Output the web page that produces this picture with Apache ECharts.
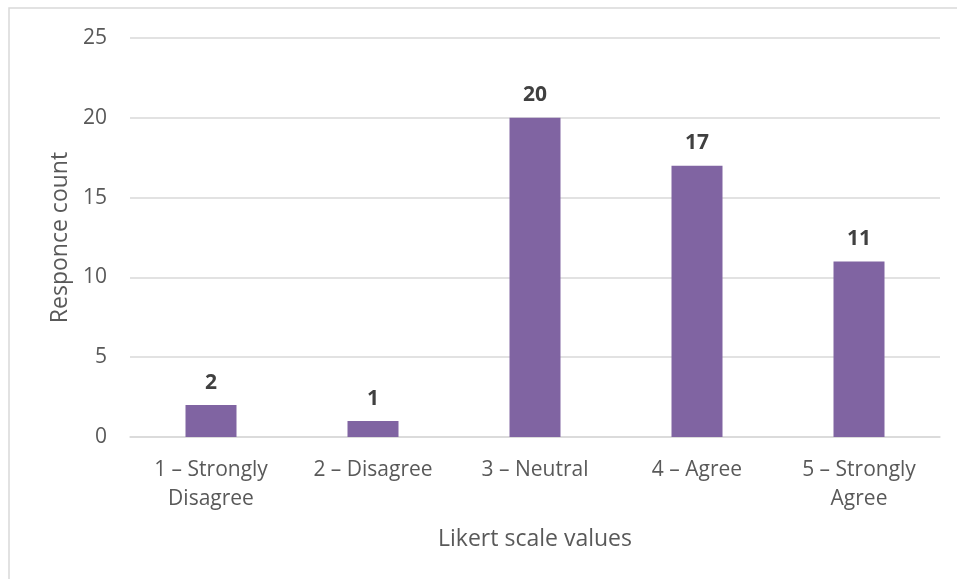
<!DOCTYPE html>
<html lang="en">
<head>
    <meta charset="UTF-8">
    <title>Likert responses</title>
    <style>
        html, body { margin: 0; padding: 0; background: #fff; }
        #main { width: 957px; height: 579px; }
    </style>
</head>
<body>
<div id="main"></div>
<script src="https://cdn.jsdelivr.net/npm/echarts@6/dist/echarts.min.js"></script>
<script>
    var categories = ['1 – Strongly\nDisagree', '2 – Disagree', '3 – Neutral', '4 – Agree', '5 – Strongly\nAgree'];
    var counts = [2, 1, 20, 17, 11];
    var yTicks = [0, 5, 10, 15, 20, 25];

    var font = '"Open Sans", sans-serif';
    var myChart = echarts.init(document.getElementById('main'));
    var option = {
        animation: false,
        textStyle: { fontFamily: font },
        graphic: [{
            type: 'rect',
            shape: { x: 9, y: 8, width: 1000, height: 1000 },
            style: { fill: 'none', stroke: '#d9d9d9', lineWidth: 1.5 }
        }],
        grid: { left: 130, right: 17, top: 38, bottom: 142 },
        xAxis: {
            type: 'category',
            data: categories,
            name: 'Likert scale values',
            nameLocation: 'middle',
            nameGap: 91,
            nameTextStyle: { fontSize: 23, color: '#595959', fontFamily: font },
            axisLine: { lineStyle: { color: '#d9d9d9', width: 1.5 } },
            axisTick: { show: false },
            axisLabel: { fontSize: 21, color: '#595959', margin: 19, lineHeight: 29, interval: 0, fontFamily: font }
        },
        yAxis: {
            type: 'value',
            min: yTicks[0],
            max: yTicks[yTicks.length - 1],
            interval: 5,
            name: 'Responce count',
            nameLocation: 'middle',
            nameGap: 56,
            nameTextStyle: { fontSize: 23, color: '#595959', fontFamily: font },
            axisLine: { show: false },
            axisTick: { show: false },
            axisLabel: { fontSize: 21, color: '#595959', margin: 23, fontFamily: font },
            splitLine: { lineStyle: { color: '#d9d9d9', width: 1.5 } }
        },
        series: [{
            type: 'bar',
            data: counts,
            barWidth: 51,
            itemStyle: { color: '#8064a2' },
            label: {
                show: true,
                position: 'top',
                distance: 12,
                fontSize: 21,
                fontWeight: 'bold',
                color: '#404040',
                fontFamily: font
            }
        }]
    };
    myChart.setOption(option);
</script>
</body>
</html>
